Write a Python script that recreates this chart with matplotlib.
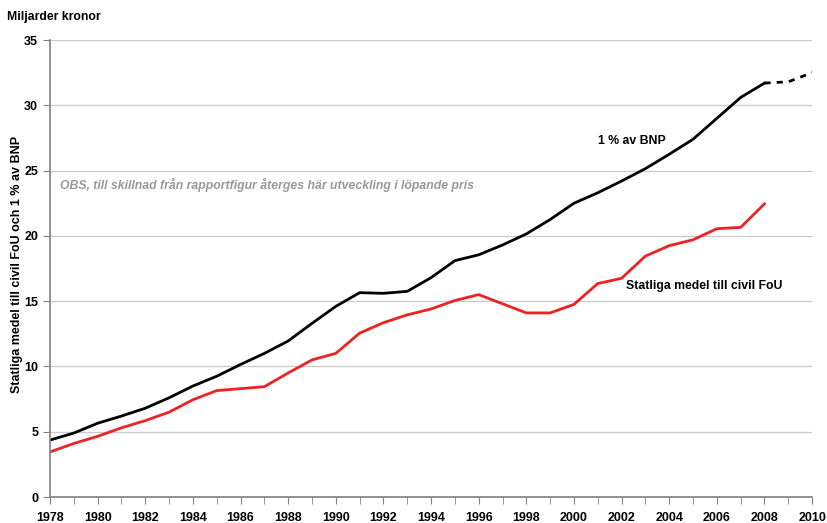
import matplotlib
matplotlib.use('Agg')
import matplotlib.pyplot as plt

plt.rcParams['font.family'] = ['Liberation Sans', 'DejaVu Sans']
plt.rcParams['font.weight'] = 'bold'

# data (miljarder kronor)
years = list(range(1978, 2009))
bnp = [4.36, 4.9, 5.65, 6.2, 6.8, 7.6, 8.5, 9.25, 10.15, 11.0, 11.95, 13.3, 14.6,
       15.65, 15.6, 15.75, 16.8, 18.1, 18.55, 19.3, 20.15, 21.25, 22.5, 23.3,
       24.2, 25.15, 26.25, 27.4, 29.0, 30.6, 31.7]
civil_fou = [3.45, 4.1, 4.65, 5.3, 5.85, 6.5, 7.45, 8.15, 8.3, 8.45, 9.5, 10.5,
             11.0, 12.55, 13.35, 13.95, 14.4, 15.05, 15.5, 14.8, 14.1, 14.1, 14.75,
             16.35, 16.75, 18.45, 19.25, 19.7, 20.55, 20.65, 22.45]
proj_years = [2008, 2009, 2010]
proj_bnp = [31.7, 31.8, 32.5]

fig = plt.figure(figsize=(8.27, 5.23), dpi=100)
ax = fig.add_axes([0.0605, 0.0497, 0.9215, 0.8738])

ax.plot(years, bnp, color='black', lw=2)
ax.plot(proj_years, proj_bnp, color='black', lw=2, ls=(0, (2.2, 2.2)))
ax.plot(years, civil_fou, color='#ee2222', lw=2)

ax.set_xlim(1978, 2010)
ax.set_ylim(0, 35)
ax.set_yticks(range(0, 36, 5))
ax.set_xticks(range(1978, 2011, 2))
ax.set_xticks(range(1978, 2011, 1), minor=True)
ax.yaxis.grid(True, color='#cccccc', lw=1)
ax.set_axisbelow(True)

for s in ['top', 'right']:
    ax.spines[s].set_visible(False)
for s in ['left', 'bottom']:
    ax.spines[s].set_color('#808080')
    ax.spines[s].set_linewidth(1.2)

ax.tick_params(axis='both', which='both', color='#808080', labelsize=9)
ax.tick_params(axis='y', length=5)
ax.tick_params(axis='x', which='both', length=5)
ax.tick_params(axis='x', pad=6)

ax.set_ylabel('Statliga medel till civil FoU och 1 % av BNP', fontsize=9, fontweight='bold')
ax.yaxis.set_label_coords(-0.036, 0.51)
fig.text(0.009, 0.967, 'Miljarder kronor', fontsize=8.8, fontweight='bold', va='center')

ax.text(2001.0, 27.3, '1 % av BNP', fontsize=8.8, fontweight='bold', va='center')
ax.text(2002.2, 16.15, 'Statliga medel till civil FoU', fontsize=8.8, fontweight='bold', va='center')
ax.text(1978.4, 23.9, 'OBS, till skillnad från rapportfigur återges här utveckling i löpande pris',
        fontsize=8.8, fontweight='bold', style='italic', color='#999999', va='center')

fig.savefig('out.png', dpi=100)
